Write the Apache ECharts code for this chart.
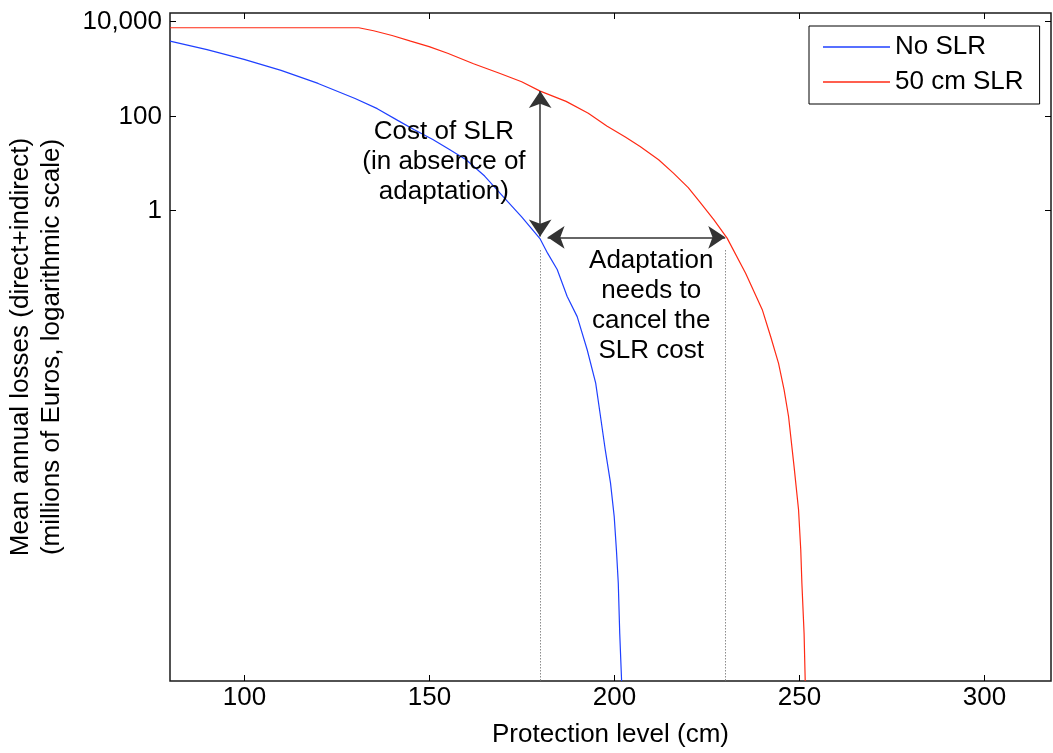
<!DOCTYPE html>
<html>
<head>
<meta charset="utf-8">
<script src="https://cdn.jsdelivr.net/npm/echarts@6/dist/echarts.min.js"></script>
<style>
html,body{margin:0;padding:0;background:#fff;}
#chart{width:1053px;height:753px;}
</style>
</head>
<body>
<div id="chart"></div>
<script>
// ---- data ----
const noSlrX = [80, 90, 100, 110, 120, 130, 136, 141.5, 146, 151, 155.5, 160, 165, 170, 175, 180, 182, 184.6, 187.3, 190, 192.7, 195, 196.3, 197.6, 199, 200, 200.6, 201.1, 201.5, 202];
const noSlrY = [3.8e3, 2.5e3, 1.55e3, 9.1e2, 4.8e2, 2.3e2, 1.4e2, 79, 50, 31, 19, 11.5, 5.2, 1.9, 0.71, 0.24, 0.12, 0.054, 0.0145, 5.4e-3, 1.07e-3, 2.1e-4, 4.1e-5, 7.9e-6, 1.6e-6, 3.1e-7, 6.0e-8, 1.2e-8, 1.0e-9, 1e-10];

const slrX = [80, 131, 135, 140, 145, 150, 155, 162, 169, 175, 180, 187, 193, 198, 203, 207, 212, 216, 220, 223, 226.9, 230.5, 235.5, 240, 242.3, 244.4, 245.9, 247.1, 248.6, 249.8, 250.4, 250.7, 251.3, 251.6];
const slrY = [7.3e3, 7.3e3, 6.3e3, 5.0e3, 3.8e3, 2.9e3, 2.1e3, 1.26e3, 7.9e2, 5.2e2, 3.3e2, 2.0e2, 1.12e2, 60, 35, 22, 11.5, 6.0, 2.95, 1.5, 0.62, 0.25, 0.045, 7.6e-3, 2.0e-3, 5.5e-4, 1.5e-4, 4.1e-5, 3.5e-6, 4.3e-7, 6.0e-8, 1.2e-8, 1.0e-9, 1e-10];

const seriesNames = ['No SLR', '50 cm SLR'];

const xTicks = [100, 150, 200, 250, 300];
const xTickLabels = ['100', '150', '200', '250', '300'];
const yTicks = [1, 100, 10000];
const yTickLabels = ['1', '100', '10,000'];

const xRange = [80, 318];
const yRange = [1e-10, 15000];

// annotation anchor values (data space)
const costArrow = [[180, 330], [180, 0.27]];
const adaptArrow = [[182, 0.26], [230, 0.26]];
const guideLines = [[[180, 0.14], [180, 1e-10]], [[230, 0.14], [230, 1e-10]]];
const costText = { x: 154, y: 10.5, text: 'Cost of SLR\n(in absence of\nadaptation)' };
const adaptText = { x: 210, y: 0.009, text: 'Adaptation\nneeds to\ncancel the\nSLR cost' };

const FONT_FAMILY = '"Liberation Sans", Arial, Helvetica, sans-serif';
const FONT = '26px ' + FONT_FAMILY;

function pairs(xs, ys) { return xs.map((x, i) => [x, ys[i]]); }

const chart = echarts.init(document.getElementById('chart'), null, { renderer: 'canvas' });

const option = {
  animation: false,
  backgroundColor: '#fff',
  textStyle: { fontFamily: FONT_FAMILY },
  grid: {
    left: 170, right: 2, top: 13, bottom: 72,
    outerBoundsMode: 'none', containLabel: false,
    show: true, borderColor: '#1a1a1a', borderWidth: 1.5, backgroundColor: 'transparent'
  },
  legend: {
    data: seriesNames,
    orient: 'vertical',
    left: 809, top: 26,
    backgroundColor: '#fff',
    borderColor: '#000', borderWidth: 1,
    padding: [6, 16, 7, 14],
    itemGap: 5,
    itemWidth: 67, itemHeight: 1.5,
    icon: 'rect',
    textStyle: { fontSize: 26, lineHeight: 30, color: '#000', fontFamily: FONT_FAMILY }
  },
  xAxis: {
    type: 'value', min: xRange[0], max: xRange[1],
    axisLine: { show: false },
    axisTick: { show: false },
    axisLabel: { show: false },
    splitLine: { show: false },
    name: 'Protection level (cm)',
    nameLocation: 'middle', nameGap: 41,
    nameTextStyle: { fontSize: 26, color: '#000', fontFamily: FONT_FAMILY }
  },
  yAxis: {
    type: 'log', logBase: 10, min: yRange[0], max: yRange[1],
    axisLine: { show: false },
    axisTick: { show: false },
    axisLabel: { show: false },
    splitLine: { show: false },
    name: 'Mean annual losses (direct+indirect)\n(millions of Euros, logarithmic scale)',
    nameLocation: 'middle', nameGap: 103, nameRotate: 90,
    nameTextStyle: { fontSize: 26, lineHeight: 31, color: '#000', fontFamily: FONT_FAMILY, align: 'center' }
  },
  series: [
    {
      name: seriesNames[0], type: 'line', data: pairs(noSlrX, noSlrY),
      showSymbol: false, symbol: 'none', smooth: false, z: 3,
      color: '#1f40ff',
      lineStyle: { color: '#1f40ff', width: 1.2 },
      markLine: {
        silent: true, symbol: ['arrow', 'arrow'], symbolSize: 17,
        label: { show: false },
        lineStyle: { color: '#333', width: 1.5, type: 'solid' },
        emphasis: { disabled: true },
        data: [
          [{ coord: costArrow[0] }, { coord: costArrow[1] }],
          [{ coord: adaptArrow[0] }, { coord: adaptArrow[1] }]
        ]
      },
      markPoint: {
        silent: true, symbol: 'circle', symbolSize: 1,
        itemStyle: { color: 'rgba(0,0,0,0)' },
        label: {
          show: true, position: 'inside', color: '#000', fontSize: 26, lineHeight: 30,
          fontFamily: FONT_FAMILY, align: 'center', verticalAlign: 'middle',
          formatter: p => p.data.txt
        },
        data: [
          { coord: [costText.x, costText.y], txt: costText.text },
          { coord: [adaptText.x, adaptText.y], txt: adaptText.text }
        ]
      }
    },
    {
      name: seriesNames[1], type: 'line', data: pairs(slrX, slrY),
      showSymbol: false, symbol: 'none', smooth: false, z: 3,
      color: '#ff2a14',
      lineStyle: { color: '#ff2a14', width: 1.2 },
      markLine: {
        silent: true, symbol: ['none', 'none'],
        label: { show: false },
        lineStyle: { color: '#8c8c8c', width: 1, type: [1.5, 1.5] },
        emphasis: { disabled: true },
        data: guideLines.map(g => [{ coord: g[0] }, { coord: g[1] }])
      }
    },
    {
      name: 'xticks', type: 'custom', coordinateSystem: 'cartesian2d', silent: true, z: 5,
      data: xTicks.map(v => [v, 1]),
      renderItem: function (params, api) {
        const cs = params.coordSys;
        const x = Math.round(api.coord([api.value(0), 1])[0]) + 0.5;
        const yb = cs.y + cs.height;
        return {
          type: 'group', children: [
            { type: 'line', shape: { x1: x, y1: yb, x2: x, y2: yb - 6 }, style: { stroke: '#000', lineWidth: 1 } },
            { type: 'line', shape: { x1: x, y1: cs.y, x2: x, y2: cs.y + 6 }, style: { stroke: '#000', lineWidth: 1 } },
            { type: 'text', x: x, y: yb + 4, style: { text: xTickLabels[params.dataIndex], font: FONT, fill: '#000', textAlign: 'center', textVerticalAlign: 'top' } }
          ]
        };
      }
    },
    {
      name: 'yticks', type: 'custom', coordinateSystem: 'cartesian2d', silent: true, z: 5,
      data: yTicks.map(v => [xRange[0], v]),
      renderItem: function (params, api) {
        const cs = params.coordSys;
        const y = Math.round(api.coord([api.value(0), api.value(1)])[1]) + 0.5;
        const xr = cs.x + cs.width;
        return {
          type: 'group', children: [
            { type: 'line', shape: { x1: cs.x, y1: y, x2: cs.x + 6, y2: y }, style: { stroke: '#000', lineWidth: 1 } },
            { type: 'line', shape: { x1: xr, y1: y, x2: xr - 6, y2: y }, style: { stroke: '#000', lineWidth: 1 } },
            { type: 'text', x: cs.x - 8, y: y, style: { text: yTickLabels[params.dataIndex], font: FONT, fill: '#000', textAlign: 'right', textVerticalAlign: 'middle' } }
          ]
        };
      }
    }
  ]
};

chart.setOption(option);
</script>
</body>
</html>
